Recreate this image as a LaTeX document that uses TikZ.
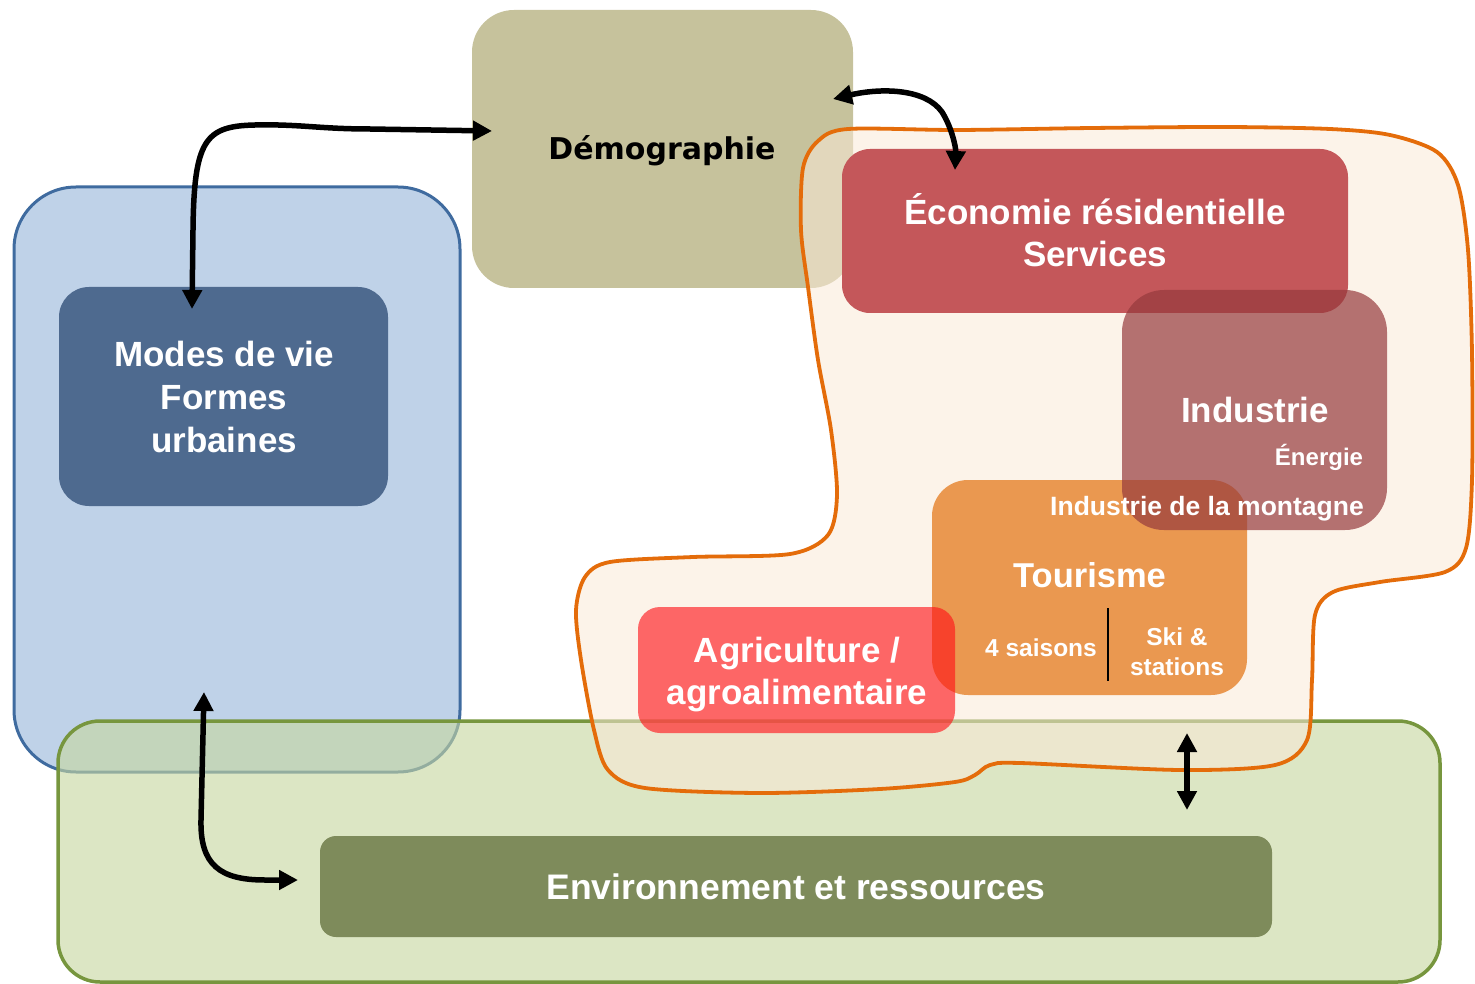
\documentclass[tikz,border=0pt]{standalone}
\usepackage{fontspec}
\setmainfont{Liberation Sans}
\newfontfamily\demofont{DejaVu Sans}
\usetikzlibrary{arrows.meta}
\definecolor{blueF}{HTML}{BFD2E8}
\definecolor{blueB}{HTML}{3F6B9F}
\definecolor{modesF}{HTML}{4E6A8F}
\definecolor{demoF}{HTML}{C6C29C}
\definecolor{greenF}{HTML}{C7D7A0}
\definecolor{greenB}{HTML}{77963E}
\definecolor{envF}{HTML}{7E8B5B}
\definecolor{blobF}{HTML}{FAE9D7}
\definecolor{blobB}{HTML}{E46C0A}
\definecolor{ecoF}{HTML}{C4575A}
\definecolor{tourF}{HTML}{EA9850}
\definecolor{indF}{HTML}{963A3D}
\definecolor{agrF}{HTML}{FF1016}
\begin{document}
\begin{tikzpicture}[x=1pt,y=-1pt,
  box/.style={rectangle,inner sep=0pt,outer sep=0pt},
  lbl/.style={inner sep=0pt,outer sep=0pt,text=white,align=center},
  conn/.style={line width=5.5pt,{Triangle[length=19pt,width=19pt]}-{Triangle[length=19pt,width=19pt]}}]
\useasboundingbox (0,0) rectangle (1475,984);
% big background boxes
\node[box,fill=blueF,draw=blueB,line width=3pt,rounded corners=62pt,minimum width=446pt,minimum height=585pt] (blue) at (237,479.5) {};
\node[box,fill=modesF,rounded corners=30pt,minimum width=329pt,minimum height=219pt] (modes) at (223.5,396.5) {};
\node[box,fill=demoF,rounded corners=42pt,minimum width=381pt,minimum height=278pt] (demo) at (662.5,149) {};
\node[box,fill=greenF,fill opacity=0.62,draw=greenB,line width=3.5pt,rounded corners=42pt,minimum width=1382pt,minimum height=261pt] (green) at (749,851.5) {};
\node[box,fill=envF,rounded corners=16pt,minimum width=952pt,minimum height=101pt] (env) at (796,886.5) {};
% orange blob
\draw[blobB,line width=3.8pt,fill=blobF,fill opacity=0.55] plot[smooth cycle,tension=0.5] coordinates {
(801,230) (803,168) (818,141) (848,129) (958,130) (1092,128) (1226,127) (1330,129) (1390,135) (1437,152) (1458,185) (1468,250) (1472,353) (1472,480) (1466,548) (1445,572) (1380,582) (1333,592) (1315,615) (1312,680) (1307,740) (1275,765) (1180,770) (1020,763) (990,765) (975,775) (955,782) (880,789) (760,793) (645,788) (608,770) (594,730) (581,660) (576,610) (585,577) (610,562) (693,557) (790,554) (828,535) (837,495) (831,430) (818,360) (808,287)};
% inner boxes
\node[box,fill=ecoF,rounded corners=28pt,minimum width=506pt,minimum height=164pt] (eco) at (1095,231) {};
\node[box,fill=tourF,rounded corners=36pt,minimum width=315pt,minimum height=215pt] (tour) at (1089.5,587.5) {};
\node[box,fill=indF,fill opacity=0.7,rounded corners=42pt,minimum width=265pt,minimum height=240pt] (ind) at (1254.5,410) {};
\node[box,fill=agrF,fill opacity=0.62,rounded corners=22pt,minimum width=317pt,minimum height=126pt] (agr) at (796.5,670) {};
% texts
\node[lbl,text=black,anchor=base,font={\demofont\bfseries\fontsize{30}{36}\selectfont}] (tdemo) at (662,160) {Démographie};
\node[lbl,font={\bfseries\fontsize{35}{42}\selectfont}] (teco) at (1095,230) {Économie résidentielle\\Services};
\node[lbl,font={\bfseries\fontsize{35}{43}\selectfont}] (tmodes) at (224,397) {Modes de vie\\Formes\\urbaines};
\node[lbl,anchor=base,font={\bfseries\fontsize{35}{42}\selectfont}] (tind) at (1255,422) {Industrie};
\node[lbl,anchor=base east,font={\bfseries\fontsize{24}{29}\selectfont}] (tener) at (1363,465) {Énergie};
\node[lbl,anchor=base,font={\bfseries\fontsize{26.5}{32}\selectfont}] (tmont) at (1207,515) {Industrie de la montagne};
\node[lbl,anchor=base,font={\bfseries\fontsize{34.5}{41}\selectfont}] (ttour) at (1089.5,587) {Tourisme};
\node[lbl,anchor=base,font={\bfseries\fontsize{24.5}{30}\selectfont}] (tsais) at (1041,656) {4 saisons};
\node[lbl,font={\bfseries\fontsize{24.5}{30}\selectfont}] (tski) at (1177,652) {Ski \&\\stations};
\node[lbl,font={\bfseries\fontsize{35}{42}\selectfont}] (tagr) at (797,674.5) {Agriculture /\\agroalimentaire};
\node[lbl,anchor=base,font={\bfseries\fontsize{35.5}{42}\selectfont}] (tenv) at (796,899) {Environnement et ressources};
% divider in Tourisme
\coordinate (dv1) at ([xshift=18.5pt,yshift=-128pt]tour.north);
\coordinate (dv2) at ([xshift=18.5pt,yshift=14pt]tour.south);
\draw[line width=2.5pt,black] (dv1) -- (dv2);
% connectors
\coordinate (a1m) at ([xshift=-31.5pt,yshift=-22pt]modes.north);
\coordinate (a1d) at ([xshift=20pt,yshift=18pt]demo.west);
\draw[conn] (a1m) -- (193,230) .. controls (194,140) and (205,126) .. (255,125) .. controls (300,124) and (320,129) .. (370,129) -- (a1d);
\coordinate (a2d) at ([xshift=-20pt,yshift=50pt]demo.east);
\coordinate (a2e) at ([xshift=-140pt,yshift=-21pt]eco.north);
\draw[conn] (a2d) .. controls (880,88) and (925,88) .. (942,112) .. controls (952,128) and (956,148) .. (a2e);
\coordinate (a3b) at ([xshift=-33pt,yshift=80pt]blue.south);
\coordinate (a3e) at ([xshift=-22pt,yshift=6.5pt]env.west);
\draw[conn] (a3b) -- (201,820) .. controls (200,865) and (220,880) .. (265,880) -- (a3e);
\coordinate (a4t) at ([xshift=-85pt,yshift=103pt]env.north east);
\coordinate (a4b) at ([xshift=-85pt,yshift=26pt]env.north east);
\draw[conn] (a4t) -- (a4b);
\end{tikzpicture}
\end{document}
